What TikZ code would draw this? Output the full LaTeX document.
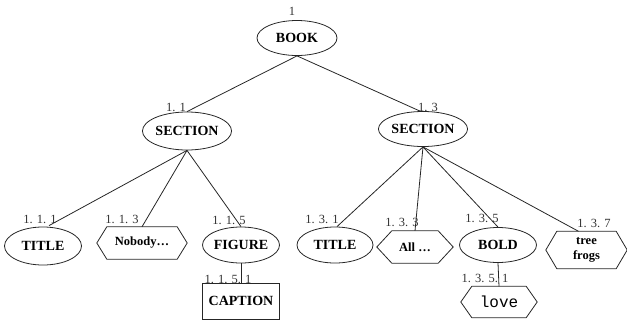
\documentclass[tikz,border=0pt]{standalone}
\usepackage{fontspec}
\setmainfont{Liberation Serif}
\newfontfamily\monofam{Liberation Mono}
\usetikzlibrary{shapes.geometric}
\newcommand\hexdraw[2]{\draw[shapeline] (#1.west) -- ([xshift=#2]#1.north west) -- ([xshift=-#2]#1.north east) -- (#1.east) -- ([xshift=-#2]#1.south east) -- ([xshift=#2]#1.south west) -- cycle;}
\begin{document}
\begin{tikzpicture}[x=1pt,y=-1pt,
  lbl/.style={font=\fontsize{12.5}{12.5}\selectfont, text=black!80, inner sep=0},
  ell/.style={draw=black!85, line width=0.8pt, ellipse, inner sep=0, font=\fontsize{14}{14}\selectfont\bfseries},
  boxnode/.style={draw=black!85, line width=0.8pt, rectangle, inner sep=0, font=\fontsize{14}{14}\selectfont\bfseries},
  hexbox/.style={inner sep=0, font=\fontsize{12.5}{15}\selectfont\bfseries, align=center},
  shapeline/.style={line width=0.8pt, black!85},
  conn/.style={line width=0.8pt, black!85}]
\useasboundingbox (0,0) rectangle (627,322);
% nodes
\node[ell, minimum width=80, minimum height=35] (book) at (297,38) {BOOK};
\node[ell, minimum width=70, minimum height=38] (sec1) at (187,131) {SECTION};
\node[ell, minimum width=73, minimum height=35] (sec2) at (423,129) {SECTION};
\node[ell, minimum width=77, minimum height=38] (title1) at (43,246) {TITLE};
\node[hexbox, minimum width=90, minimum height=32] (nobody) at (142,243) {Nobody…};
\hexdraw{nobody}{10}
\node[ell, minimum width=77, minimum height=36] (figure) at (241,245) {FIGURE};
\node[boxnode, minimum width=77, minimum height=36] (caption) at (241,301) {CAPTION};
\node[ell, minimum width=76, minimum height=36] (title2) at (335,245) {TITLE};
\node[hexbox, minimum width=76, minimum height=32] (all) at (415,247) {All …};
\hexdraw{all}{15}
\node[hexbox, minimum width=76, minimum height=31, font=\monofam\fontsize{16}{16}\selectfont] (love) at (499,302) {love};
\hexdraw{love}{11}
\node[ell, minimum width=77, minimum height=35] (bold) at (498,245) {BOLD};
\node[hexbox, minimum width=81, minimum height=37] (frogs) at (586.5,250) {tree\\frogs};
\hexdraw{frogs}{11}
% labels
\node[lbl] (lb1) at (292,11.5) {1};
\node[lbl] (lb11) at (176,107) {1. 1};
\node[lbl] (lb13) at (428,107) {1. 3};
\node[lbl] (lb111) at (40,219) {1. 1. 1};
\node[lbl] (lb113) at (122,219) {1. 1. 3};
\node[lbl] (lb115) at (229,220) {1. 1. 5};
\node[lbl] (lb1151) at (228,279) {1. 1. 5. 1};
\node[lbl] (lb131) at (322,219) {1. 3. 1};
\node[lbl] (lb133) at (402,222) {1. 3. 3};
\node[lbl] (lb135) at (482,218) {1. 3. 5};
\node[lbl] (lb1351) at (485,278) {1. 3. 5. 1};
\node[lbl] (lb137) at (594,223) {1. 3. 7};
% connectors
\draw[conn] (book.south) -- (sec1.north);
\draw[conn] (book.south) -- ([xshift=-3]sec2.north);
\draw[conn] (sec1.south) -- ([xshift=6,yshift=1]title1.north);
\draw[conn] (sec1.south) -- (nobody.north);
\draw[conn] (sec1.south) -- (figure.north);
\draw[conn] (figure.south) -- (caption.north);
\draw[conn] (sec2.south) -- ([xshift=2]title2.north);
\draw[conn] (sec2.south) -- (all.north);
\draw[conn] (sec2.south) -- (bold.north);
\draw[conn] (sec2.south) -- ([xshift=-8]frogs.north);
\draw[conn] (bold.south) -- (love.north);
\end{tikzpicture}
\end{document}
